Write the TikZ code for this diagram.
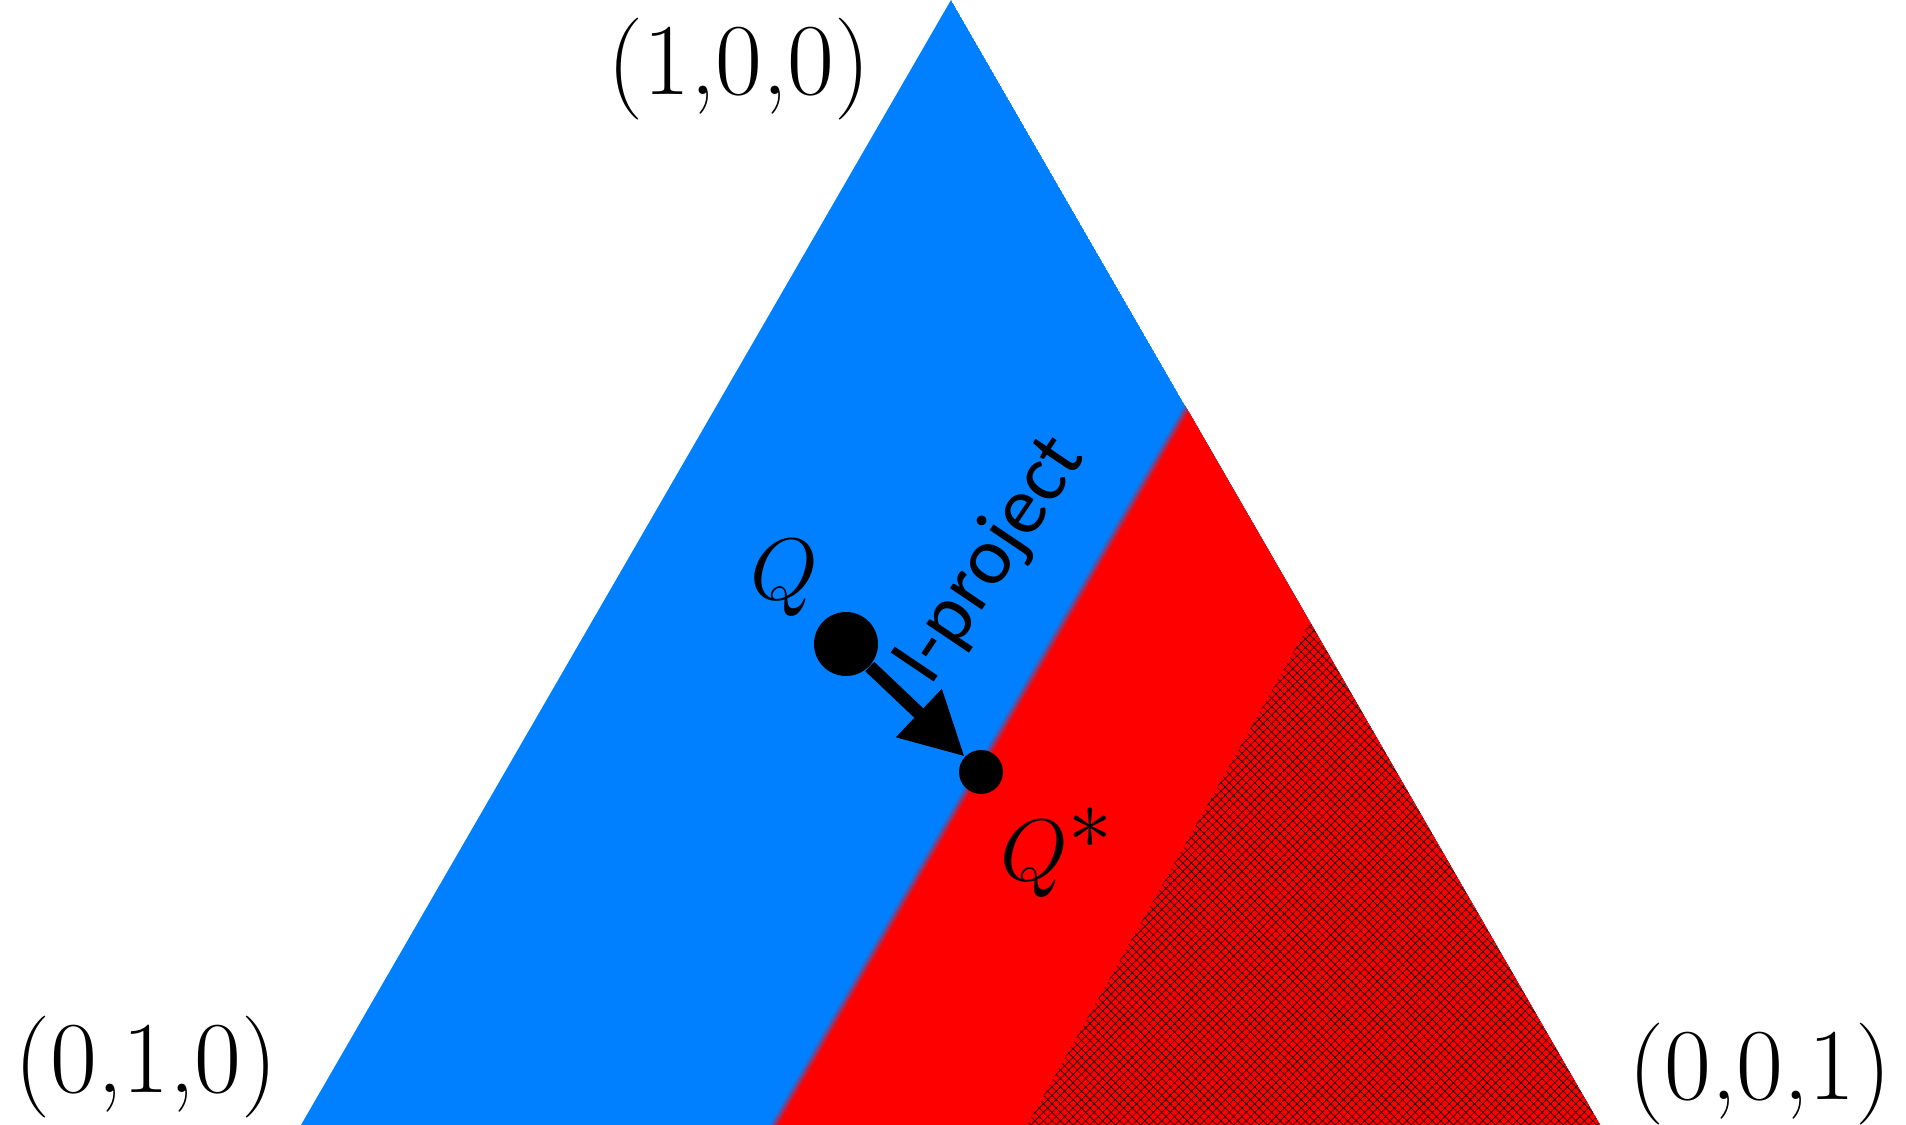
\documentclass[tikz,border=0pt]{standalone}
\usepackage{fontspec}
\newfontfamily\calfont{Carlito}
\usetikzlibrary{arrows.meta, patterns.meta, calc}
\definecolor{qblue}{RGB}{0,128,255}
\definecolor{qred}{RGB}{255,0,0}
\tikzset{
  vertlabel/.style={font=\fontsize{29}{34}\selectfont, inner sep=0pt},
  distlabel/.style={font=\fontsize{35}{40}\selectfont, inner sep=0pt},
  distpt/.style={circle, fill=black, inner sep=0pt},
  proj/.style={-{Triangle[length=6.3mm,width=6.3mm]}, line width=3.7pt},
  hatched/.style={
    pattern={Hatch[angle=45,distance=1.7pt,line width=0.18pt]},
    pattern color=black
  },
}
\begin{document}
\begin{tikzpicture}[x=0.1mm, y=-0.1mm]
  \useasboundingbox (0,0) rectangle (1906,1125);
  \coordinate (top) at (951,0);
  \coordinate (left) at (301,1125);
  \coordinate (right) at (1600,1125);

  \begin{scope}
    \clip (top) -- (left) -- (right) -- cycle;
    \fill[qblue] (top) -- (left) -- (right) -- cycle;
    \foreach \k [evaluate=\k as \pct using int(10*\k),
                 evaluate=\k as \xa using 1249+\k-5.5,
                 evaluate=\k as \xb using 731+\k-5.5] in {1,...,10} {
      \fill[qred!\pct!qblue] (\xa,300) -- (1700,300) -- (1700,1200) -- (\xb,1200) -- cycle;
    }
    \fill[hatched] (1379,500) -- (1700,500) -- (1700,1200) -- (985,1200) -- cycle;
  \end{scope}

  \node[vertlabel] (v100) at (739,69) {(1,0,0)};
  \node[vertlabel] (v010) at (146,1067) {(0,1,0)};
  \node[vertlabel] (v001) at (1760,1074) {(0,0,1)};

  \node[distpt, minimum size=6.4mm] (Q) at (846,644) {};
  \node[distpt, minimum size=4.4mm] (Qs) at (981,772) {};
  \node[distlabel] (Qlab) at (784,578) {$Q$};
  \node[distlabel] (Qslab) at (1057,853) {$Q^*$};
  \node[font=\calfont\fontsize{23}{28}\selectfont, rotate=56,
        anchor=base west, inner sep=0pt] (projlab) at (930,688) {I-project};

  \draw[proj] (Q) -- (Qs);
\end{tikzpicture}
\end{document}
